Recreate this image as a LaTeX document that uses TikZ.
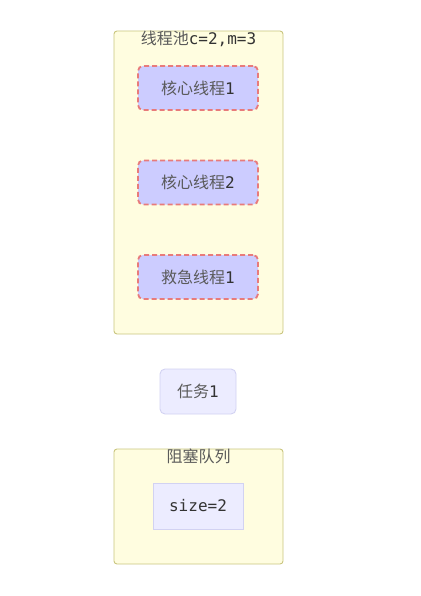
\documentclass[tikz,border=0pt]{standalone}
\usepackage{fontspec}
\setmainfont{Noto Sans CJK SC}
\setmonofont{DejaVu Sans Mono}
\usetikzlibrary{positioning}
\usepackage{xcolor}
\definecolor{poolfill}{HTML}{FFFDE0}
\definecolor{pooledge}{HTML}{C9C57E}
\definecolor{threadfill}{HTML}{CCCCFF}
\definecolor{threadedge}{HTML}{E87B7B}
\definecolor{taskfill}{HTML}{ECECFF}
\definecolor{taskedge}{HTML}{D2D2F2}
\definecolor{txt}{HTML}{5A5A5A}
\newcommand{\mono}[1]{{\ttfamily\color{black!80}#1}}

\begin{document}
\begin{tikzpicture}[x=1pt, y=-1pt,
  every node/.style={font=\fontsize{16}{18}\selectfont, text=txt},
  box/.style={draw=pooledge, fill=poolfill, line width=0.9pt, rounded corners=3pt},
  thread/.style={draw=threadedge, fill=threadfill, line width=1.8pt, dash pattern=on 5pt off 3pt,
    rounded corners=5pt, minimum width=120pt, minimum height=44pt},
  task/.style={draw=taskedge, fill=taskfill, line width=0.9pt, minimum width=76pt, minimum height=45pt}]
\useasboundingbox (0,0) rectangle (420,596);
% Pool dei thread
\node[box, minimum width=169pt, minimum height=303pt] (pool) at (198.5,182.5) {};
\node[below=0pt of pool.north, inner sep=0pt] (poollab) {线程池\mono{c=2,m=3}};
% Thread interni
\foreach \y/\name in {88/core1, 182.5/core2, 277/rescue}{
  \node[thread] (\name) at (198,\y) {};
}
\node at (core1) {核心线程\mono{1}};
\node at (core2) {核心线程\mono{2}};
\node at (rescue) {救急线程\mono{1}};
% Compito
\node[task, rounded corners=5pt] (task1) at (198,391.5) {任务\mono{1}};
% Coda bloccante
\node[box, minimum width=169pt, minimum height=115pt] (queue) at (198.5,506.5) {};
\node[below=0pt of queue.north, inner sep=0pt] (queuelab) {阻塞队列};
\node[task, minimum width=90pt, minimum height=46pt] (size) at (198,506) {\mono{size=2}};
\end{tikzpicture}
\end{document}
